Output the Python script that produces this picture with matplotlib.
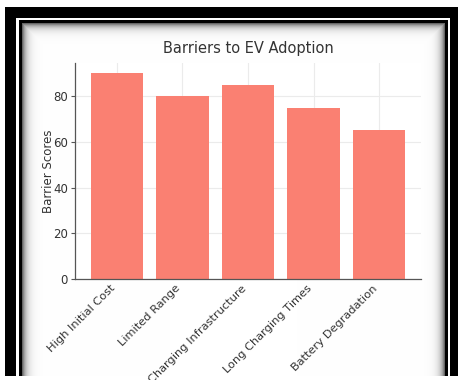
import numpy as np
import matplotlib
matplotlib.use("Agg")
import matplotlib.pyplot as plt

categories = ["High Initial Cost", "Limited Range", "Charging Infrastructure",
              "Long Charging Times", "Battery Degradation"]
scores = [90, 80, 85, 75, 65]
title = "Barriers to EV Adoption"
ylabel = "Barrier Scores"

W, H = 458, 380
fig = plt.figure(figsize=(W / 100, H / 100), dpi=100)

# decorative screenshot frame (background image)
img = np.ones((H, W, 3))
def fill(x0, x1, y0, y1, v):
    img[y0:y1, x0:x1, :] = v
fill(5, W, 7, 376, 0.0)
fill(16, 450, 18, 376, 1.0)
fill(19, 448, 20, 376, 0.0)
px0, px1, py0, py1 = 22, 445, 23, 376
yy, xx = np.mgrid[py0:py1, px0:px1]
d = np.minimum(np.minimum(xx - px0, px1 - 1 - xx), yy - py0).astype(float)
shade = 1 - 0.6 * np.exp(-d / 4.0)
img[py0:py1, px0:px1, :] = shade[..., None]

bg = fig.add_axes([0, 0, 1, 1], zorder=0)
bg.imshow(img, aspect="auto", interpolation="nearest", extent=(0, W, H, 0))
bg.set_xlim(0, W)
bg.set_ylim(H, 0)
bg.axis("off")

left, right, top, bottom = 75, 421, 63, 279
ax = fig.add_axes([left / W, 1 - bottom / H, (right - left) / W, (bottom - top) / H], zorder=1)
ax.set_facecolor("white")
x = np.arange(len(categories))
ax.bar(x, scores, width=0.8, color="#FA8072", zorder=2)
ax.set_xticks(x)
ax.set_xticklabels(categories, rotation=45, ha="right", fontsize=8.2, color="#333333")
ax.tick_params(axis="y", labelsize=8.5, labelcolor="#333333", length=3, pad=2, color="#555555")
ax.tick_params(axis="x", direction="in", length=3, pad=3, color="#555555")
ax.set_yticks([0, 20, 40, 60, 80])
ax.grid(True, color="#ebebeb", linewidth=0.8, zorder=0)
ax.set_axisbelow(True)
for s in ["top", "right"]:
    ax.spines[s].set_visible(False)
for s in ["left", "bottom"]:
    ax.spines[s].set_color("#555555")
    ax.spines[s].set_linewidth(0.9)
ax.set_title(title, fontsize=10.5, color="#333333", pad=7)
ax.set_ylabel(ylabel, fontsize=8.5, color="#333333", labelpad=-1)

fig.savefig("out.png", dpi=100)
